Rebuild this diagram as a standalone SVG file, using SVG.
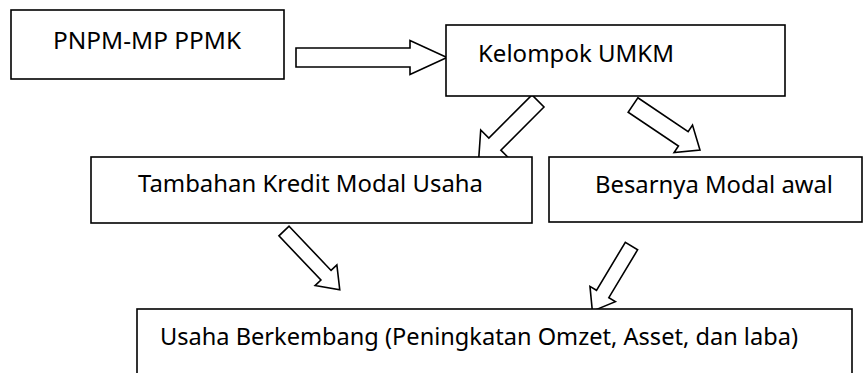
<svg xmlns="http://www.w3.org/2000/svg" width="867" height="373" viewBox="0 0 867 373">
<style>
.box{fill:#fff;stroke:#000;stroke-width:1.6}
.arr{fill:#fff;stroke:#000;stroke-width:1.6;stroke-linejoin:miter}
.t{font-family:"Noto Sans","Open Sans","Liberation Sans",sans-serif;font-size:23px;fill:#000}
</style>
<rect width="867" height="373" fill="#fff"/>
<g id="connectors">
<path class="arr" d="M0,-9.5 L114,-9.5 L114,-17 L151,0 L114,17 L114,9.5 L0,9.5 Z" transform="translate(296,57.5)"/>
<path class="arr" d="M0,-8.5 L61,-8.5 L61,-20 L84,0 L61,20 L61,8.5 L0,8.5 Z" transform="translate(538,101) rotate(135)"/>
<path class="arr" d="M0,-8.7 L60.6,-8.7 L60.6,-16.5 L80.7,0 L60.6,16.5 L60.6,8.7 L0,8.7 Z" transform="translate(633,105) rotate(33.9)"/>
<path class="arr" d="M0,-7 L61,-7 L61,-15 L81,0 L61,15 L61,7 L0,7 Z" transform="translate(284,231) rotate(46.5)"/>
<path class="arr" d="M0,-7.2 L56,-7.2 L56,-14.8 L76,0 L56,14.8 L56,7.2 L0,7.2 Z" transform="translate(631.5,246) rotate(121)"/>
</g>
<g id="pnpm">
<rect class="box" x="11" y="10" width="273" height="69"/>
<text class="t" x="53" y="49" textLength="188" lengthAdjust="spacingAndGlyphs">PNPM-MP PPMK</text>
</g>
<g id="kelompok">
<rect class="box" x="446" y="25" width="339" height="71"/>
<text class="t" x="478" y="62" textLength="196" lengthAdjust="spacingAndGlyphs">Kelompok UMKM</text>
</g>
<g id="tambahan">
<rect class="box" x="91" y="157" width="441" height="66"/>
<text class="t" x="138" y="192" textLength="345" lengthAdjust="spacingAndGlyphs">Tambahan Kredit Modal Usaha</text>
</g>
<g id="besarnya">
<rect class="box" x="549" y="157" width="313" height="65"/>
<text class="t" x="595" y="193" textLength="238" lengthAdjust="spacingAndGlyphs">Besarnya Modal awal</text>
</g>
<g id="usaha">
<rect class="box" x="137" y="309" width="715" height="100"/>
<text class="t" x="160" y="345" textLength="638" lengthAdjust="spacingAndGlyphs">Usaha Berkembang (Peningkatan Omzet, Asset, dan laba)</text>
</g>
</svg>
